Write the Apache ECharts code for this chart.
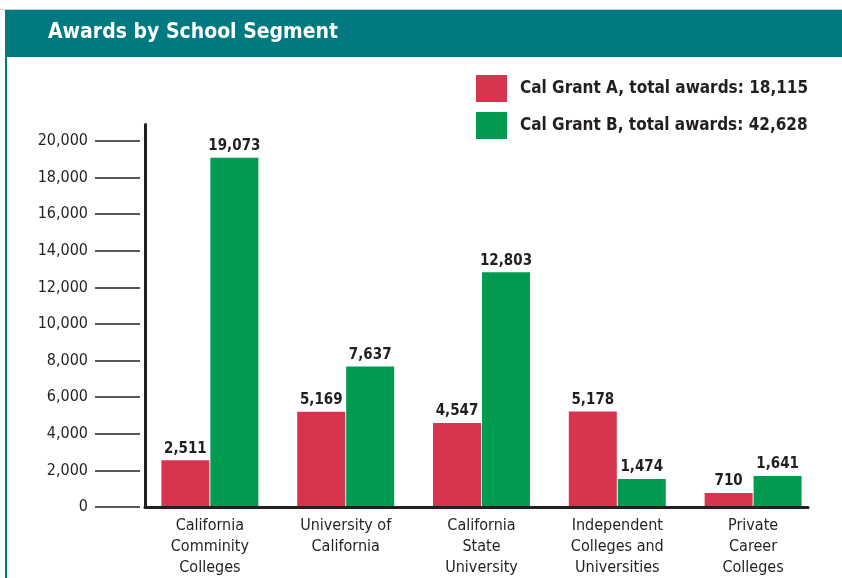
<!DOCTYPE html>
<html lang="en">
<head>
    <meta charset="UTF-8">
    <title>Awards by School Segment</title>
    <script src="https://cdn.jsdelivr.net/npm/echarts@6/dist/echarts.min.js"></script>
    <style>
        body { margin: 0; background: #fff; }
        #main { width: 842px; height: 578px; }
    </style>
</head>
<body>
<div id="main"></div>
<script type="text/javascript">
    // data
    var segments = [
        'California\nComminity\nColleges',
        'University of\nCalifornia',
        'California\nState\nUniversity',
        'Independent\nColleges and\nUniversities',
        'Private\nCareer\nColleges'
    ];
    var grantA = [2511, 5169, 4547, 5178, 710];
    var grantB = [19073, 7637, 12803, 1474, 1641];
    var grantATotal = '18,115';
    var grantBTotal = '42,628';
    var yTicks = [0, 2000, 4000, 6000, 8000, 10000, 12000, 14000, 16000, 18000, 20000];

    var font = '"DejaVu Sans Condensed", "Liberation Sans Narrow", sans-serif';
    var teal = '#007a80';
    var red = '#d7354f';
    var green = '#009b50';
    var ink = '#231f20';
    var yMax = 20900;

    var myChart = echarts.init(document.getElementById('main'));

    var fmt = function (v) {
        return Number(v).toLocaleString('en-US');
    };

    // grid 0 holds the bars, grid 1 only draws the axis frame + y ticks
    var option = {
        animation: false,
        textStyle: { fontFamily: font },
        title: {
            text: 'Awards by School Segment',
            left: 48,
            top: 22,
            padding: 0,
            textStyle: { color: '#fff', fontSize: 21, fontWeight: 'bold', fontFamily: font }
        },
        graphic: [
            { type: 'rect', z: -1, shape: { x: 0, y: 9, width: 842, height: 1 }, style: { fill: '#c8cfcf' } },
            { type: 'rect', z: -1, shape: { x: 5, y: 10, width: 837, height: 47 }, style: { fill: teal } },
            { type: 'rect', z: -1, shape: { x: 5, y: 57, width: 2, height: 521 }, style: { fill: teal } }
        ],
        legend: {
            left: 476,
            top: 75,
            padding: 0,
            orient: 'vertical',
            itemWidth: 31,
            itemHeight: 27,
            itemGap: 10,
            icon: 'rect',
            textStyle: { fontSize: 17, fontWeight: 'bold', color: ink, fontFamily: font, padding: [0, 0, 0, 8] },
            formatter: function (name) {
                return name === 'A' ? 'Cal Grant A, total awards: ' + grantATotal
                                    : 'Cal Grant B, total awards: ' + grantBTotal;
            }
        },
        grid: [
            { left: 142, right: 21, top: 124.5, bottom: 71 },
            { left: 145, right: 34, top: 124.5, bottom: 71 }
        ],
        xAxis: [
            {
                type: 'category', gridIndex: 0,
                data: segments,
                axisLine: { show: false },
                axisTick: { show: false },
                axisLabel: { color: ink, fontSize: 16, lineHeight: 21, margin: 9, fontFamily: font }
            },
            {
                type: 'category', gridIndex: 1,
                data: segments,
                axisLine: { lineStyle: { color: ink, width: 3 } },
                axisTick: { show: false },
                axisLabel: { show: false }
            }
        ],
        yAxis: [
            {
                type: 'value', gridIndex: 0, min: 0, max: yMax, show: false
            },
            {
                type: 'value', gridIndex: 1, min: 0, max: yMax, interval: 2000,
                axisLine: { show: true, lineStyle: { color: ink, width: 3 } },
                axisTick: { show: false },
                axisLabel: { show: false },
                splitLine: { show: false }
            },
            {
                type: 'value', gridIndex: 1, position: 'left', offset: 5, min: 0, max: yMax, interval: 2000,
                axisLine: { show: false },
                axisTick: { show: true, length: 45, customValues: yTicks, lineStyle: { color: ink, width: 1.5 } },
                axisLabel: {
                    color: ink, fontSize: 16, margin: 52, fontFamily: font,
                    customValues: yTicks,
                    formatter: fmt
                },
                splitLine: { show: false }
            }
        ],
        series: [
            {
                name: 'A', type: 'bar', data: grantA, xAxisIndex: 0, yAxisIndex: 0,
                barWidth: 48, barGap: '2%',
                itemStyle: { color: red },
                label: { show: true, position: 'top', distance: 4, formatter: function (p) { return fmt(p.value); },
                    color: ink, fontSize: 15, fontWeight: 'bold', fontFamily: font }
            },
            {
                name: 'B', type: 'bar', data: grantB, xAxisIndex: 0, yAxisIndex: 0,
                barWidth: 48, barGap: '2%',
                itemStyle: { color: green },
                label: { show: true, position: 'top', distance: 4, formatter: function (p) { return fmt(p.value); },
                    color: ink, fontSize: 15, fontWeight: 'bold', fontFamily: font }
            }
        ]
    };

    myChart.setOption(option);
</script>
</body>
</html>
